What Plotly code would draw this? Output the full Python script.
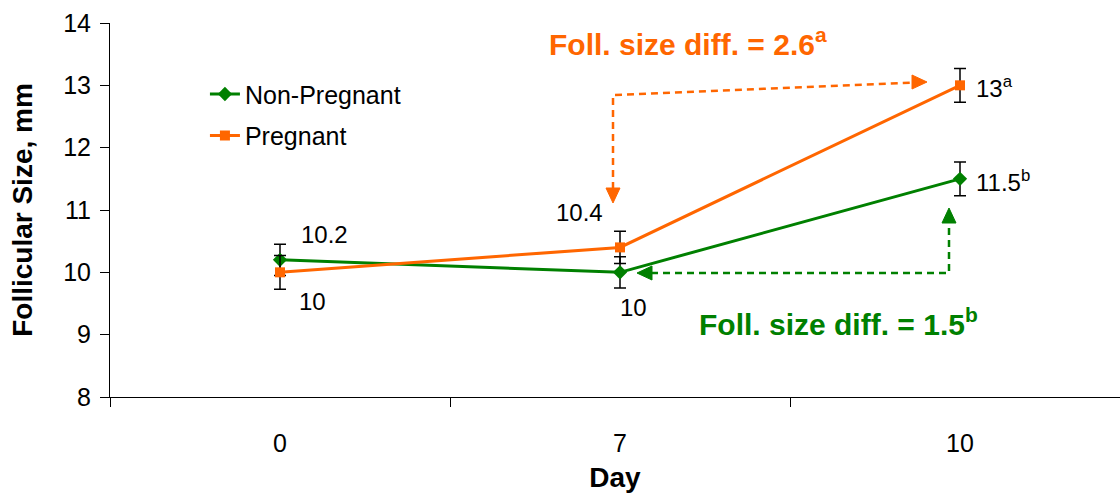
import plotly.graph_objects as go

# ---- data ----
days = ["0", "7", "10"]
non_pregnant = [10.2, 10.0, 11.5]
non_pregnant_err = [0.25, 0.25, 0.27]
pregnant = [10.0, 10.4, 13.0]
pregnant_err = [0.27, 0.26, 0.27]
np_sup = ["", "", "b"]
p_sup = ["", "", "a"]
y_ticks = [8, 9, 10, 11, 12, 13, 14]

GREEN = "#008000"
ORANGE = "#FF6600"
FONT = "Liberation Sans, Arial, sans-serif"

xpos = list(range(len(days)))

# layout geometry
ML, MR, MT, MB = 110, 0, 23, 96
W, H = 1120, 493
PX_PER_X = 340.0
PW = W - ML - MR
PH = H - MT - MB
X0 = -0.5
X1 = X0 + PW / PX_PER_X
PX_PER_Y = PH / (y_ticks[-1] - y_ticks[0])


def px2x(p):
    return (p - ML) / PX_PER_X + X0


def px2y(p):
    return y_ticks[-1] - (p - MT) / PX_PER_Y


fig = go.Figure()
fig.add_trace(go.Scatter(
    x=xpos, y=non_pregnant, name="Non-Pregnant", mode="lines+markers",
    line=dict(color=GREEN, width=3),
    marker=dict(symbol="diamond", size=11, color=GREEN),
    error_y=dict(type="data", array=non_pregnant_err, color="black", thickness=1.5, width=6),
    legendgroup="a",
))
fig.add_trace(go.Scatter(
    x=xpos, y=pregnant, name="Pregnant", mode="lines+markers",
    line=dict(color=ORANGE, width=3),
    marker=dict(symbol="square", size=10, color=ORANGE),
    error_y=dict(type="data", array=pregnant_err, color="black", thickness=1.5, width=6),
    legendgroup="b",
))

annotations = []
label_font = dict(family=FONT, size=24, color="black")


def fmt(v):
    return ("%g" % v)


# data labels: (series values, sup, index, xanchor, xshift, yshift)
label_specs = [
    (non_pregnant, np_sup, 0, "left", 19, 25),
    (pregnant, p_sup, 0, "left", 17, -29),
    (pregnant, p_sup, 1, "right", -15, 35),
    (non_pregnant, np_sup, 1, "left", -2, -35),
    (pregnant, p_sup, 2, "left", 14, -2),
    (non_pregnant, np_sup, 2, "left", 14, -2),
]
for vals, sup, i, xa, xs, ys in label_specs:
    txt = fmt(vals[i]) + ("<sup>%s</sup>" % sup[i] if sup[i] else "")
    annotations.append(dict(x=xpos[i], y=vals[i], text=txt, showarrow=False,
                            xanchor=xa, yanchor="middle", xshift=xs, yshift=ys,
                            font=label_font))

diff_p = pregnant[2] - pregnant[1]
diff_np = non_pregnant[2] - non_pregnant[1]
annotations.append(dict(x=px2x(547), y=px2y(42), xanchor="left", yanchor="middle",
                        text="<b>Foll. size diff. = %.1f<sup>a</sup></b>" % diff_p,
                        showarrow=False, font=dict(family=FONT, size=30, color=ORANGE)))
annotations.append(dict(x=px2x(697), y=px2y(322), xanchor="left", yanchor="middle",
                        text="<b>Foll. size diff. = %.1f<sup>b</sup></b>" % diff_np,
                        showarrow=False, font=dict(family=FONT, size=30, color=GREEN)))

shapes = []
AH = 15  # arrowhead length px
AW = 7   # arrowhead half width px


def dashed(pts, color):
    path = "M " + " L ".join("%f,%f" % (px2x(a), px2y(b)) for a, b in pts)
    shapes.append(dict(type="path", path=path, line=dict(color=color, width=2.5, dash="7px,5px"),
                       xref="x", yref="y"))


def head(tx, ty, direction, color):
    if direction == "down":
        pts = [(tx, ty), (tx - AW, ty - AH), (tx + AW, ty - AH)]
    elif direction == "up":
        pts = [(tx, ty), (tx - AW, ty + AH), (tx + AW, ty + AH)]
    elif direction == "left":
        pts = [(tx, ty), (tx + AH, ty - AW), (tx + AH, ty + AW)]
    else:
        pts = [(tx, ty), (tx - AH, ty - AW), (tx - AH, ty + AW)]
    path = "M " + " L ".join("%f,%f" % (px2x(a), px2y(b)) for a, b in pts) + " Z"
    shapes.append(dict(type="path", path=path, fillcolor=color, line=dict(color=color, width=1),
                       xref="x", yref="y"))


# orange arrow: from top horizontal down to day 7, and right to day 10
dashed([(613, 189), (613, 95), (913, 82.6)], ORANGE)
head(613, 203, "down", ORANGE)
head(927, 82, "right", ORANGE)
# green arrow
dashed([(651, 273), (949, 273), (949, 222)], GREEN)
head(637, 273, "left", GREEN)
head(949, 208, "up", GREEN)

fig.update_layout(
    width=W, height=H,
    margin=dict(l=ML, r=MR, t=MT, b=MB, pad=0),
    paper_bgcolor="white", plot_bgcolor="white",
    font=dict(family=FONT, size=24, color="black"),
    showlegend=True,
    legend=dict(x=0.094, y=0.871, xanchor="left", yanchor="top",
                bgcolor="rgba(0,0,0,0)", font=dict(family=FONT, size=25, color="black"),
                tracegroupgap=6),
    annotations=annotations,
    shapes=shapes,
    xaxis=dict(
        range=[X0, X1], tickvals=xpos, ticktext=days, ticks="",
        showline=True, linecolor="black", linewidth=1, showgrid=False, zeroline=False,
        tickfont=dict(family=FONT, size=25, color="black"),
        ticklabelstandoff=24,
        minor=dict(tickvals=[-0.5, 0.5, 1.5, 2.5], ticks="outside", ticklen=9,
                   tickcolor="black", tickwidth=1, showgrid=False),
        title=dict(text="<b>Day</b>", font=dict(family=FONT, size=28, color="black"), standoff=14),
    ),
    yaxis=dict(
        range=[y_ticks[0], y_ticks[-1]], tickvals=y_ticks, ticks="outside", ticklen=9,
        tickcolor="black", showline=True, linecolor="black", linewidth=1,
        showgrid=False, zeroline=False,
        tickfont=dict(family=FONT, size=25, color="black"),
        ticklabelstandoff=4,
        title=dict(text="<b>Follicular Size, mm</b>", font=dict(family=FONT, size=28, color="black"),
                   standoff=22),
    ),
)

fig.write_html("out.html")
